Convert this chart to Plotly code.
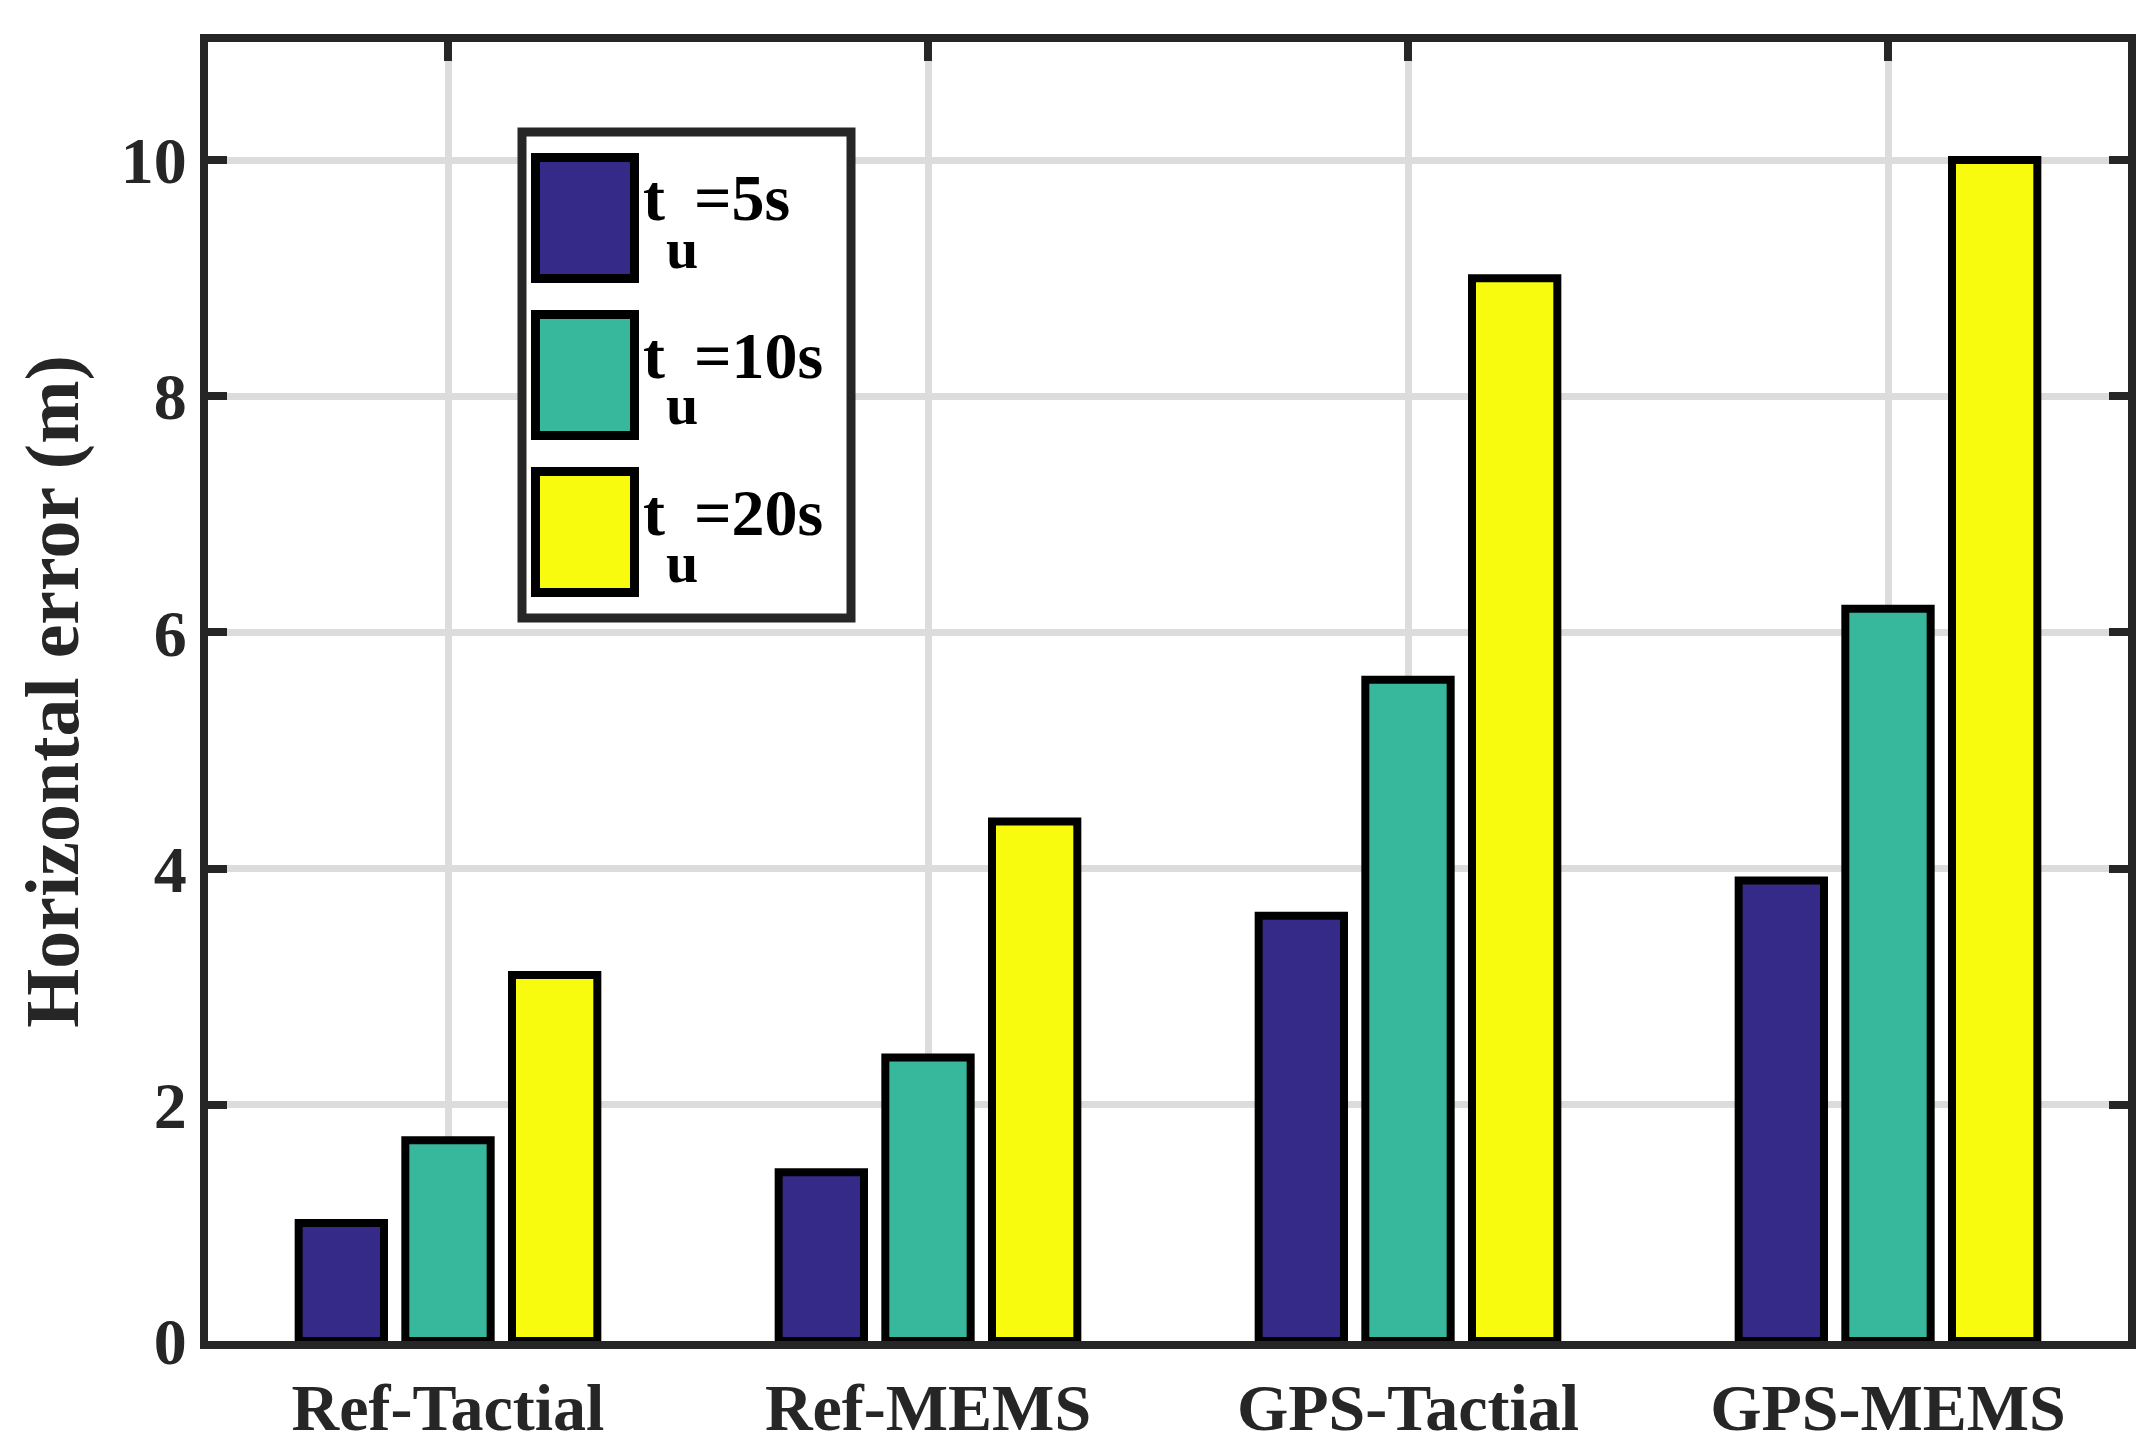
import plotly.graph_objects as go

# bar data
categories = ["Ref-Tactial", "Ref-MEMS", "GPS-Tactial", "GPS-MEMS"]
series_names = ["5s", "10s", "20s"]
err_5s = [1.0, 1.43, 3.6, 3.9]
err_10s = [1.7, 2.4, 5.6, 6.2]
err_20s = [3.1, 4.4, 9.0, 10.0]
y_ticks = [0, 2, 4, 6, 8, 10]

colors = ["#352A87", "#37B89D", "#F9FB0E"]
values = [err_5s, err_10s, err_20s]

W, H = 2152, 1452
L, R, T, B = 200, 32, 34, 119
PW, PH = W - L - R, H - T - B


def px_x(p):
    return (p - L) / PW


def px_y(p):
    return (H - B - p) / PH


font = dict(family="Liberation Serif, Times New Roman, serif", size=66,
            color="#262626", weight="bold")

fig = go.Figure()
for name, vals, col in zip(series_names, values, colors):
    fig.add_trace(go.Bar(
        x=categories, y=vals, name="t_u=" + name,
        marker=dict(color=col, line=dict(color="#000000", width=8)),
        showlegend=False,
    ))

axis_common = dict(
    showline=True, linewidth=8, linecolor="#262626", mirror="ticks",
    ticks="inside", ticklen=19, tickwidth=8, tickcolor="#262626",
    showgrid=True, gridcolor="#DCDCDC", gridwidth=7,
    tickfont=font, zeroline=False, automargin=False,
)

fig.update_layout(
    width=W, height=H,
    margin=dict(l=L, r=R, t=T, b=B),
    plot_bgcolor="white", paper_bgcolor="white",
    barmode="group", bargap=1/3, bargroupgap=0.2,
    font=font,
    xaxis=dict(axis_common, range=[-0.5, 3.5], ticklabelstandoff=2, layer="below traces"),
    yaxis=dict(axis_common, range=[0, 11], tickvals=y_ticks, ticklabelstandoff=0,
               title=dict(text="Horizontal error (m)", font=dict(font, size=76), standoff=20)),
)

# hand-made legend with large swatches
shapes = [dict(type="rect", xref="paper", yref="paper",
               x0=px_x(514), x1=px_x(843), y0=px_y(610), y1=px_y(124),
               line=dict(color="#262626", width=9), fillcolor="white", layer="above")]
annotations = []
row_top = [149.5, 306.5, 463.5]
txt_font = dict(font, color="#000000")
for top, name, col in zip(row_top, series_names, colors):
    shapes.append(dict(type="rect", xref="paper", yref="paper",
                       x0=px_x(527.5), x1=px_x(626.5), y0=px_y(top + 121), y1=px_y(top),
                       line=dict(color="#000000", width=9), fillcolor=col, layer="above"))
    mid = top + 40.5
    annotations.append(dict(xref="paper", yref="paper", x=px_x(633), y=px_y(mid),
                            text="t", showarrow=False, xanchor="left", yanchor="middle",
                            font=txt_font))
    annotations.append(dict(xref="paper", yref="paper", x=px_x(656), y=px_y(mid + 50),
                            text="u", showarrow=False, xanchor="left", yanchor="middle",
                            font=dict(txt_font, size=58)))
    annotations.append(dict(xref="paper", yref="paper", x=px_x(684), y=px_y(mid),
                            text="=" + name, showarrow=False, xanchor="left", yanchor="middle",
                            font=txt_font))

fig.update_layout(shapes=shapes, annotations=annotations)

fig.write_html("out.html")
